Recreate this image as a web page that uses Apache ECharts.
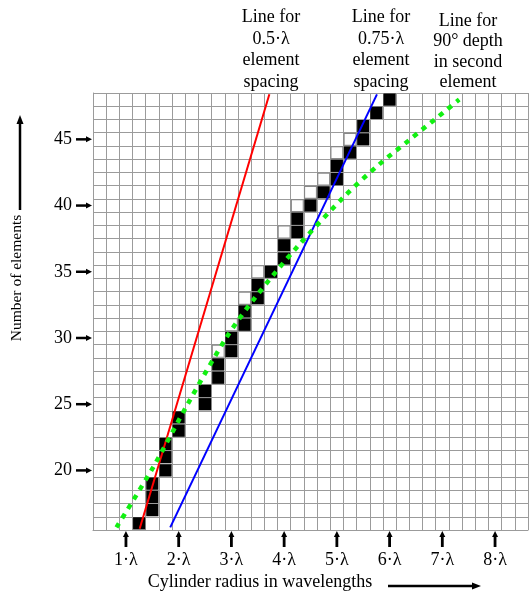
<!DOCTYPE html>
<html>
<head>
<meta charset="utf-8">
<script src="https://cdn.jsdelivr.net/npm/echarts@6/dist/echarts.min.js"></script>
<style>
    html, body { margin: 0; padding: 0; background: #fff; }
    #myChart { width: 529px; height: 597px; }
</style>
</head>
<body>
<div id="myChart"></div>
<script>
    // grid columns: cylinder radius (wavelengths), grid rows: number of elements
    var radii = [0.5, 0.75, 1, 1.25, 1.5, 1.75, 2, 2.25, 2.5, 2.75, 3, 3.25, 3.5, 3.75, 4, 4.25, 4.5,
        4.75, 5, 5.25, 5.5, 5.75, 6, 6.25, 6.5, 6.75, 7, 7.25, 7.5, 7.75, 8, 8.25, 8.5];
    var counts = [16, 17, 18, 19, 20, 21, 22, 23, 24, 25, 26, 27, 28, 29, 30, 31, 32,
        33, 34, 35, 36, 37, 38, 39, 40, 41, 42, 43, 44, 45, 46, 47, 48];

    var xTicks = [1, 2, 3, 4, 5, 6, 7, 8];
    var yTicks = [20, 25, 30, 35, 40, 45];

    // [radius, elements]
    var blackCells = [
        [1.25, 16], [1.5, 17], [1.5, 18], [1.5, 19], [1.75, 20], [1.75, 21], [1.75, 22],
        [2, 23], [2, 24], [2.5, 25], [2.5, 26], [2.75, 27], [2.75, 28], [3, 29], [3, 30],
        [3.25, 31], [3.25, 32], [3.5, 33], [3.5, 34], [3.75, 35], [4, 36], [4, 37],
        [4.25, 38], [4.25, 39], [4.5, 40], [4.75, 41], [5, 42], [5, 43], [5.25, 44],
        [5.5, 45], [5.5, 46], [5.75, 47], [6, 48]
    ];
    var openCells = [
        [2.75, 29], [3, 31], [3.25, 33], [3.5, 35], [4, 38], [4.25, 40], [4.5, 41],
        [4.75, 42], [5, 44], [5.25, 45]
    ];

    var halfLambda = [[1.26, 15.6], [3.72, 48.4]];
    var threeQuarterLambda = [[1.84, 15.7], [5.76, 48.4]];
    var depth90 = [[0.82, 15.7], [1.51, 20.2], [2.17, 25], [2.9, 30], [3.44, 33], [4.23, 36.8],
        [5.17, 40.8], [5.8, 43.1], [6.39, 45], [7.32, 48]];

    var FONT = 'Liberation Serif';

    function toIdx(list) {
        return list.map(function (c) {
            return [radii.indexOf(c[0]), counts.indexOf(c[1])];
        });
    }

    function cellRenderer(fill, stroke, inset) {
        return function (params, api) {
            var p = api.coord([api.value(0), api.value(1)]);
            var s = api.size([1, 1]);
            return {
                type: 'rect',
                shape: {x: p[0] - s[0] / 2 + inset, y: p[1] - s[1] / 2 + inset, width: s[0] - 2 * inset, height: s[1] - 2 * inset},
                style: {fill: fill, stroke: stroke, lineWidth: stroke ? 1.2 : 0}
            };
        };
    }

    let myChart = echarts.init(document.getElementById('myChart'));
    myChart.setOption({
        animation: false,
        backgroundColor: '#fff',
        textStyle: {fontFamily: FONT},
        grid: {left: 93, top: 93, width: 435, height: 437},
        xAxis: [{
            type: 'category',
            data: radii,
            boundaryGap: true,
            axisLine: {lineStyle: {color: '#9b9b9b'}},
            axisTick: {show: false},
            splitLine: {show: true, interval: 0, lineStyle: {color: '#9b9b9b', width: 1}},
            axisLabel: {
                interval: function (i, v) { return Number(v) % 1 === 0; },
                formatter: function (v) { return v + '·λ'; },
                margin: 21,
                fontSize: 18,
                color: '#000',
                fontFamily: FONT
            }
        }, {
            type: 'value',
            show: false,
            min: 0.375,
            max: 8.625
        }],
        yAxis: [{
            type: 'category',
            data: counts,
            boundaryGap: true,
            axisLine: {lineStyle: {color: '#9b9b9b'}},
            axisTick: {show: false},
            splitLine: {show: true, interval: 0, lineStyle: {color: '#9b9b9b', width: 1}},
            axisLabel: {
                interval: function (i, v) { return Number(v) % 5 === 0; },
                margin: 21,
                fontSize: 18,
                color: '#000',
                fontFamily: FONT
            }
        }, {
            type: 'value',
            show: false,
            min: 15.5,
            max: 48.5
        }],
        graphic: [
            {type: 'text', x: 271, y: 7, style: {text: 'Line for\n0.5·λ\nelement\nspacing', fontSize: 18, lineHeight: 21.5, fontFamily: FONT, fill: '#000', align: 'center'}},
            {type: 'text', x: 381, y: 7, style: {text: 'Line for\n0.75·λ\nelement\nspacing', fontSize: 18, lineHeight: 21.5, fontFamily: FONT, fill: '#000', align: 'center'}},
            {type: 'text', x: 468, y: 11, style: {text: 'Line for\n90° depth\nin second\nelement', fontSize: 18, lineHeight: 20.5, fontFamily: FONT, fill: '#000', align: 'center'}},
            {type: 'text', x: 17, y: 278, rotation: Math.PI / 2, style: {text: 'Number of elements', fontSize: 15.5, fontFamily: FONT, fill: '#000', align: 'center', verticalAlign: 'middle'}},
            {type: 'line', shape: {x1: 20, y1: 210, x2: 20, y2: 122}, style: {stroke: '#000', lineWidth: 2.5}},
            {type: 'polygon', shape: {points: [[20, 115], [16.5, 124], [23.5, 124]]}, style: {fill: '#000'}},
            {type: 'text', x: 260, y: 582, style: {text: 'Cylinder radius in wavelengths', fontSize: 18, fontFamily: FONT, fill: '#000', align: 'center', verticalAlign: 'middle'}},
            {type: 'line', shape: {x1: 388, y1: 586, x2: 474, y2: 586}, style: {stroke: '#000', lineWidth: 2.5}},
            {type: 'polygon', shape: {points: [[481, 586], [472, 582.5], [472, 589.5]]}, style: {fill: '#000'}}
        ],
        series: [
            {
                type: 'custom',
                xAxisIndex: 0,
                yAxisIndex: 0,
                data: toIdx(openCells),
                encode: {x: 0, y: 1},
                renderItem: cellRenderer('#fdfdfd', '#888888', 0.6),
                z: 2
            },
            {
                type: 'custom',
                xAxisIndex: 0,
                yAxisIndex: 0,
                data: toIdx(blackCells),
                encode: {x: 0, y: 1},
                renderItem: cellRenderer('#000', null, 0.5),
                z: 3
            },
            {
                name: '0.5λ', type: 'line', xAxisIndex: 1, yAxisIndex: 1,
                data: halfLambda, symbol: 'none', z: 5,
                lineStyle: {color: '#ff0000', width: 2}
            },
            {
                name: '0.75λ', type: 'line', xAxisIndex: 1, yAxisIndex: 1,
                data: threeQuarterLambda, symbol: 'none', z: 5,
                lineStyle: {color: '#0000ff', width: 2}
            },
            {
                name: '90deg', type: 'line', xAxisIndex: 1, yAxisIndex: 1,
                data: depth90, symbol: 'none', smooth: 0.3, z: 6,
                lineStyle: {color: '#11f011', width: 4.5, type: [5, 6], cap: 'butt'}
            },
            {
                // x tick arrows
                type: 'custom', xAxisIndex: 1, yAxisIndex: 1, clip: false, silent: true,
                data: xTicks.map(function (v) { return [v, 15.5]; }),
                encode: {x: 0, y: 1},
                renderItem: function (params, api) {
                    var p = api.coord([api.value(0), api.value(1)]);
                    return {
                        type: 'group', children: [
                            {type: 'line', shape: {x1: p[0], y1: p[1] + 17, x2: p[0], y2: p[1] + 6}, style: {stroke: '#000', lineWidth: 2.8}},
                            {type: 'polygon', shape: {points: [[p[0], p[1] + 1], [p[0] - 3, p[1] + 7], [p[0] + 3, p[1] + 7]]}, style: {fill: '#000'}}
                        ]
                    };
                }
            },
            {
                // y tick arrows
                type: 'custom', xAxisIndex: 1, yAxisIndex: 1, clip: false, silent: true,
                data: yTicks.map(function (v) { return [0.375, v]; }),
                encode: {x: 0, y: 1},
                renderItem: function (params, api) {
                    var p = api.coord([api.value(0), api.value(1)]);
                    return {
                        type: 'group', children: [
                            {type: 'line', shape: {x1: p[0] - 17, y1: p[1], x2: p[0] - 6, y2: p[1]}, style: {stroke: '#000', lineWidth: 2.5}},
                            {type: 'polygon', shape: {points: [[p[0] - 1, p[1]], [p[0] - 7, p[1] - 3], [p[0] - 7, p[1] + 3]]}, style: {fill: '#000'}}
                        ]
                    };
                }
            }
        ]
    });
</script>
</body>
</html>
